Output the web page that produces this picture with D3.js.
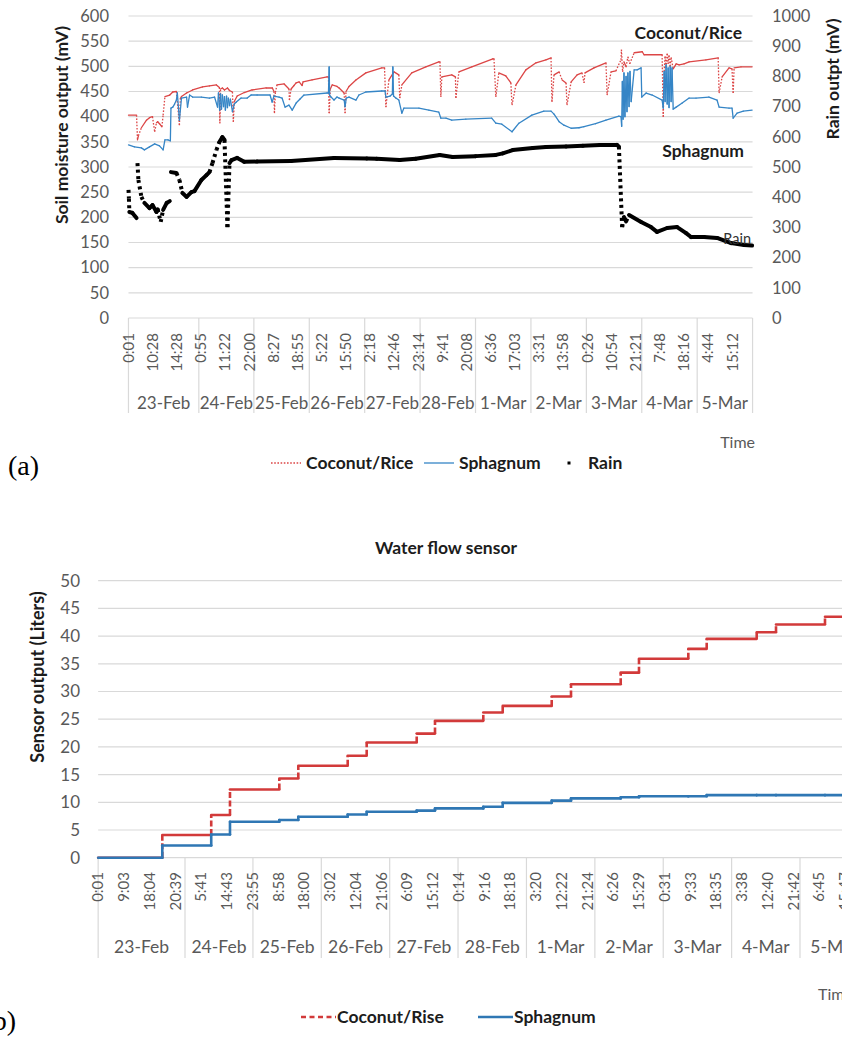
<!DOCTYPE html>
<html>
<head>
<meta charset="utf-8">
<script src="https://cdn.jsdelivr.net/npm/d3@7"></script>
<style>
  body { margin: 0; background: #fff; }
  svg { display: block; }
</style>
</head>
<body>
<svg id="fig" width="842" height="1039"></svg>
<script>
// ---------- data ----------
const days = ["23-Feb","24-Feb","25-Feb","26-Feb","27-Feb","28-Feb","1-Mar","2-Mar","3-Mar","4-Mar","5-Mar"];

// category-axis tick labels: [day index, clock time]
const soilTimeTicks = [[0,"0:01"],[0,"10:28"],[0,"14:28"],[1,"0:55"],[1,"11:22"],[1,"22:00"],[2,"8:27"],[2,"18:55"],
  [3,"5:22"],[3,"15:50"],[4,"2:18"],[4,"12:46"],[4,"23:14"],[5,"9:41"],[5,"20:08"],[6,"6:36"],[6,"17:03"],
  [7,"3:31"],[7,"13:58"],[8,"0:26"],[8,"10:54"],[8,"21:21"],[9,"7:48"],[9,"18:16"],[10,"4:44"],[10,"15:12"]];
const flowTimeTicks = [[0,"0:01"],[0,"9:03"],[0,"18:04"],[0,"20:39"],[1,"5:41"],[1,"14:43"],[1,"23:55"],[2,"8:58"],
  [2,"18:00"],[3,"3:02"],[3,"12:04"],[3,"21:06"],[4,"6:09"],[4,"15:12"],[5,"0:14"],[5,"9:16"],[5,"18:18"],
  [6,"3:20"],[6,"12:22"],[6,"21:24"],[7,"6:26"],[7,"15:29"],[8,"0:31"],[8,"9:33"],[8,"18:35"],[9,"3:38"],
  [9,"12:40"],[9,"21:42"],[10,"6:45"],[10,"15:47"]];

const soilTicks = [0,50,100,150,200,250,300,350,400,450,500,550,600];
const rainTicks = [0,100,200,300,400,500,600,700,800,900,1000];
const flowTicks = [0,5,10,15,20,25,30,35,40,45,50];

// soil moisture sensors: [hours since 23-Feb 0:00, mV]
const coconutSoil = [[0.02,403],[3.5,403],[3.9,354],[4.3,362],[5.6,378],[7.8,393],[9.1,398],[10.4,400],[10.8,370],
  [11.1,388],[11.3,390],[11.6,386],[12.0,380],[12.2,403],[12.5,440],[13.3,443],[13.8,449],[14.4,450],[15.6,383],
  [16.0,436],[16.5,440],[18.7,447],[21.3,453],[25.6,459],[28.6,461],[31.6,463],[32.9,458],[33.1,387],[33.4,455],
  [34.2,457],[35.1,453],[36.4,457],[37.3,452],[38.6,449],[39.0,390],[39.4,430],[40.7,441],[43.8,448],[47.2,453],
  [53.3,457],[56.0,457],[56.7,450],[56.9,407],[57.3,448],[58.0,463],[61.1,465],[63.2,455],[63.4,433],[64.1,455],
  [65.4,462],[66.3,467],[67.6,469],[68.9,462],[69.3,469],[73.2,473],[79.7,479],[80.3,479],[80.6,407],[81.1,455],
  [81.9,463],[84.0,460],[84.9,457],[87.1,447],[87.5,407],[87.9,450],[89.2,460],[92.2,473],[96.5,487],[103.4,497],
  [104.6,497],[105.2,419],[106.5,473],[108.7,489],[110.8,483],[111.2,437],[112.1,463],[116.4,487],[122.5,499],
  [128.1,509],[128.6,509],[129.0,439],[129.4,479],[133.7,483],[135.3,479],[135.5,437],[136.8,489],[142.4,499],
  [151.5,515],[152.0,515],[152.8,439],[154.1,487],[157.1,481],[159.3,467],[159.8,423],[161.5,463],[165.8,493],
  [170.2,507],[174.5,513],[176.7,517],[177.1,429],[178.0,483],[180.2,489],[181.5,473],[183.2,467],[183.6,423],
  [185.4,469],[188.0,483],[190.1,487],[191.0,467],[191.4,487],[195.3,497],[200.5,507],[201.0,443],[202.7,489],
  [204.8,491],[207.0,513],[207.2,533],[207.7,489],[208.3,509],[209.2,499],[210.0,519],[210.8,505],[212.7,527],
  [216.2,529],[217.0,523],[224.8,523],[225.3,400],[225.7,490],[226.1,520],[226.5,497],[227.0,525],[227.4,505],
  [227.8,522],[228.3,500],[228.7,518],[229.6,495],[230.9,505],[232.2,503],[234.3,505],[236.5,509],[243.8,513],
  [249.1,517],[249.5,447],[250.8,479],[253.8,497],[255.1,495],[255.6,447],[256.0,497],[259.0,499],[263.8,499]];

const sphagnumSoil = [[0.02,344],[2.6,340],[5.6,338],[6.9,334],[9.1,340],[10.8,346],[11.6,342],[12.2,334],[12.5,354],
  [13.0,354],[13.4,352],[13.5,417],[13.8,419],[14.1,425],[14.4,433],[14.7,447],[15.6,393],[16.5,437],[18.7,439],
  [19.1,419],[20.0,443],[21.3,439],[25.1,439],[28.6,437],[30.8,439],[32.1,419],[32.5,447],[33.0,413],[33.4,445],
  [33.8,415],[34.2,443],[34.7,420],[35.1,440],[35.5,413],[36.0,441],[36.4,418],[36.8,437],[37.3,422],[37.7,435],
  [38.6,410],[39.4,425],[40.3,429],[42.4,437],[45.1,437],[46.8,443],[49.4,443],[55.0,443],[55.9,429],[56.7,441],
  [58.9,439],[60.2,437],[61.5,419],[63.2,423],[64.6,413],[66.3,427],[68.0,435],[69.7,443],[79.7,447],[80.3,447],
  [80.6,499],[80.8,443],[81.4,439],[82.7,433],[84.0,439],[84.9,437],[87.1,433],[87.5,420],[88.0,437],[89.2,439],
  [92.2,433],[93.5,443],[96.5,449],[103.4,451],[104.8,451],[105.2,439],[107.0,441],[108.0,445],[108.2,499],
  [108.5,441],[109.5,437],[110.8,433],[112.1,407],[113.0,417],[119.5,417],[123.8,413],[128.1,409],[129.0,397],
  [131.2,397],[133.7,393],[139.8,395],[151.0,397],[152.8,387],[155.4,385],[159.8,370],[162.8,387],[168.4,403],
  [173.6,411],[176.7,411],[178.0,405],[180.2,390],[182.3,383],[185.4,377],[188.8,378],[191.0,380],[196.0,386],
  [200.5,393],[206.1,401],[207.0,400],[207.3,381],[207.6,470],[207.9,395],[208.3,487],[208.7,400],[209.2,480],
  [209.6,410],[210.0,487],[210.5,420],[210.9,490],[211.4,430],[212.7,493],[214.0,493],[215.7,497],[216.0,439],
  [217.9,447],[220.5,443],[224.8,433],[225.3,417],[225.7,490],[226.1,430],[226.5,503],[227.0,425],[227.4,497],
  [227.8,418],[228.3,500],[228.7,430],[229.1,497],[229.6,415],[230.9,419],[233.5,427],[236.5,437],[239.5,437],
  [245.1,439],[248.6,433],[249.5,419],[253.8,417],[255.1,417],[255.6,397],[257.3,407],[260.0,411],[263.8,413]];

// rain sensor: [hours, mV]; null marks a gap in the record
const rainOutput = [[0.02,424],[0.2,395],[0.4,351],[1.7,348],[3.5,331],[3.7,null],[3.9,513],[4.3,457],[5.6,401],
  [6.9,381],[9.1,364],[10.4,374],[11.1,351],[11.3,360],[11.8,318],[12.2,358],[12.8,381],[13.3,387],[13.4,null],
  [13.5,483],[14.4,480],[15.6,457],[16.9,414],[18.7,401],[20.8,417],[22.1,420],[25.1,457],[27.3,473],[28.6,483],
  [29.9,513],[31.6,556],[32.9,583],[34.2,599],[35.1,590],[36.4,301],[37.3,513],[38.2,523],[40.7,530],[43.8,517],
  [49.4,518],[64.1,520],[82.7,530],[96.9,528],[101.2,527],[111.2,523],[118.1,527],[128.5,540],[134.1,533],
  [144.1,536],[152.8,540],[155.8,545],[160.1,556],[168.8,563],[174.5,566],[183.2,568],[190.5,570],[197.9,573],
  [205.3,573],[206.1,568],[207.5,301],[208.3,334],[209.2,320],[210.5,341],[215.7,318],[220.0,301],[222.6,285],
  [227.0,298],[231.3,301],[235.2,281],[237.3,268],[243.0,268],[248.6,265],[254.7,248],[260.3,242],[263.8,240]];

// water flow sensors: hours at which the counters stepped, and the level reached (liters)
const flowStepHours = [19.33,33.2,39.8,57.27,63.93,81.26,87.92,105.49,111.92,128.86,135.67,152.86,159.63,177.07,
  183.5,200.8,207.25,224.81,231.58,248.78];
const coconutFlow = [4.1,7.7,12.3,14.3,16.6,18.4,20.8,22.4,24.7,26.2,27.4,29.1,31.3,33.4,35.9,37.7,39.5,40.7,42.1,43.5];
const sphagnumFlow = [2.2,4.2,6.5,6.8,7.4,7.8,8.3,8.5,8.9,9.2,9.9,10.3,10.7,10.9,11.1,11.1,11.3,11.3,11.3,11.3];

// ---------- helpers ----------
const FONT = "Lato, 'Open Sans', sans-serif";
const GRID = "#d9d9d9", TICK = "#595959", INK = "#1c1c1c";
const svg = d3.select("#fig");
const totalHours = days.length * 24;

const hoursOf = ([d, clock]) => {
  const [h, m] = clock.split(":").map(Number);
  return d * 24 + h + m / 60;
};
// category axis: every labelled sample sits one step further along
const categoryScale = (ticks, x0, step) =>
  d3.scaleLinear().domain(ticks.map(hoursOf)).range(ticks.map((_, i) => x0 + i * step));

// draw a series segment by segment; near-vertical jumps get the dash pattern
function drawSegments(g, pts, x, y, st) {
  for (let i = 0; i < pts.length - 1; i++) {
    const p = pts[i], q = pts[i + 1];
    if (p[1] == null || q[1] == null) continue;
    const x1 = x(p[0]), y1 = y(p[1]), x2 = x(q[0]), y2 = y(q[1]);
    const steep = Math.abs(y2 - y1) > 6 && Math.abs(y2 - y1) > 2 * Math.abs(x2 - x1);
    g.append("line")
      .attr("x1", x1).attr("y1", y1).attr("x2", x2).attr("y2", y2)
      .attr("stroke", st.color).attr("stroke-width", st.width)
      .attr("stroke-linecap", steep && st.dash ? "butt" : "round")
      .attr("stroke-dasharray", steep && st.dash ? st.dash : null);
  }
}
function stepPoints(start, end, times, levels) {
  const pts = [[start, 0]];
  let prev = 0;
  times.forEach((t, i) => { pts.push([t, prev], [t, levels[i]]); prev = levels[i]; });
  pts.push([end, prev]);
  return pts;
}
function styleAxisText(g, size, anchor) {
  g.select(".domain").remove();
  g.selectAll("text").attr("fill", TICK).style("font-family", FONT).style("font-size", size + "px")
    .attr("text-anchor", anchor);
}
function label(g, x, y, txt, size, opts = {}) {
  return g.append("text").attr("x", x).attr("y", y).text(txt)
    .style("font-family", opts.family || FONT).style("font-size", size + "px")
    .style("font-weight", opts.bold ? "bold" : "normal")
    .attr("fill", opts.fill || INK).attr("text-anchor", opts.anchor || "start");
}
function rotatedTitle(g, cx, cy, txt, size) {
  g.append("text").attr("transform", `translate(${cx},${cy}) rotate(-90)`)
    .attr("text-anchor", "middle").attr("dy", "0.35em").text(txt)
    .style("font-family", FONT).style("font-size", size + "px").style("font-weight", "bold").attr("fill", INK);
}

// ---------- panel (a): soil moisture and rain ----------
const pa = svg.append("g");
const xA = categoryScale(soilTimeTicks, 128.5, 24.15);
const ySoil = d3.scaleLinear().domain([0, 600]).range([318, 16]);
const yRain = d3.scaleLinear().domain([0, 1000]).range([318, 16]);
const aL = xA(0), aR = xA(totalHours);

pa.append("g").selectAll("line").data(soilTicks).join("line")
  .attr("x1", aL).attr("x2", aR).attr("y1", d => ySoil(d)).attr("y2", d => ySoil(d))
  .attr("stroke", GRID).attr("stroke-width", 1.2);

pa.append("g").attr("transform", "translate(109,0)")
  .call(d3.axisLeft(ySoil).tickValues(soilTicks).tickSize(0).tickPadding(0))
  .call(g => styleAxisText(g, 16.5, "end"));
pa.append("g").attr("transform", "translate(772,0)")
  .call(d3.axisRight(yRain).tickValues(rainTicks).tickFormat(d3.format("d")).tickSize(0).tickPadding(0))
  .call(g => styleAxisText(g, 16.5, "start"));

rotatedTitle(pa, 62, 125, "Soil moisture output (mV)", 17.5);
rotatedTitle(pa, 833, 79, "Rain outpt (mV)", 17.5);

// two-level time axis
pa.append("g").selectAll("line").data(d3.range(days.length + 1)).join("line")
  .attr("x1", d => xA(d * 24)).attr("x2", d => xA(d * 24)).attr("y1", 318).attr("y2", 413)
  .attr("stroke", GRID).attr("stroke-width", 1.2);
pa.append("g").selectAll("text").data(soilTimeTicks).join("text")
  .attr("transform", d => `translate(${xA(hoursOf(d))},333) rotate(-90)`)
  .attr("text-anchor", "end").attr("dy", "0.35em").text(d => d[1])
  .style("font-family", FONT).style("font-size", "15px").attr("fill", TICK);
pa.append("g").selectAll("text").data(days).join("text")
  .attr("x", (d, i) => (xA(i * 24) + xA((i + 1) * 24)) / 2).attr("y", 409)
  .attr("text-anchor", "middle").text(d => d)
  .style("font-family", FONT).style("font-size", "17px").attr("fill", TICK);
label(pa, 755, 448, "Time", 16, { anchor: "end", fill: TICK });

// series
const gRed = pa.append("g"), gBlue = pa.append("g"), gRain = pa.append("g");
drawSegments(gRed, coconutSoil, xA, ySoil, { color: "#dc4646", width: 1.3, dash: "1.6,1.6" });
drawSegments(gBlue, sphagnumSoil, xA, ySoil, { color: "#3585c6", width: 1.3 });
drawSegments(gRain, rainOutput, xA, yRain, { color: "#000", width: 4, dash: "3,3.5" });

label(pa, 742, 39, "Coconut/Rice", 17.5, { anchor: "end", bold: true });
label(pa, 744, 157, "Sphagnum", 17.5, { anchor: "end", bold: true });
label(pa, 751, 244, "Rain", 14.5, { anchor: "end", fill: "#333" });

// legend (a)
const la = pa.append("g");
la.append("line").attr("x1", 271).attr("x2", 301).attr("y1", 463).attr("y2", 463)
  .attr("stroke", "#dc4646").attr("stroke-width", 1.3).attr("stroke-dasharray", "1.6,1.6");
label(la, 306, 469, "Coconut/Rice", 17.5, { bold: true });
la.append("line").attr("x1", 424).attr("x2", 454).attr("y1", 463).attr("y2", 463)
  .attr("stroke", "#3585c6").attr("stroke-width", 1.3);
label(la, 459, 469, "Sphagnum", 17.5, { bold: true });
la.append("rect").attr("x", 567.5).attr("y", 461.5).attr("width", 3).attr("height", 3).attr("fill", "#000");
label(la, 588, 469, "Rain", 17.5, { bold: true });
label(svg, 8, 475, "(a)", 28, { family: "'Liberation Serif', serif", fill: "#000" });

// ---------- panel (b): water flow ----------
const pb = svg.append("g");
const xB = categoryScale(flowTimeTicks, 98.2, 25.75);
const yFlow = d3.scaleLinear().domain([0, 50]).range([857.7, 580.7]);
const bL = xB(0), bR = xB(totalHours);

label(pb, 446, 554, "Water flow sensor", 17.5, { anchor: "middle", bold: true });

pb.append("g").selectAll("line").data(flowTicks).join("line")
  .attr("x1", bL).attr("x2", bR).attr("y1", d => yFlow(d)).attr("y2", d => yFlow(d))
  .attr("stroke", GRID).attr("stroke-width", 1.2);
pb.append("g").attr("transform", "translate(80,0)")
  .call(d3.axisLeft(yFlow).tickValues(flowTicks).tickSize(0).tickPadding(0))
  .call(g => styleAxisText(g, 17, "end"));
rotatedTitle(pb, 38, 677, "Sensor output (Liters)", 18);

pb.append("g").selectAll("line").data(d3.range(days.length + 1)).join("line")
  .attr("x1", d => xB(d * 24)).attr("x2", d => xB(d * 24)).attr("y1", 858).attr("y2", 958)
  .attr("stroke", GRID).attr("stroke-width", 1.2);
pb.append("g").selectAll("text").data(flowTimeTicks).join("text")
  .attr("transform", d => `translate(${xB(hoursOf(d))},872) rotate(-90)`)
  .attr("text-anchor", "end").attr("dy", "0.35em").text(d => d[1])
  .style("font-family", FONT).style("font-size", "15px").attr("fill", TICK);
pb.append("g").selectAll("text").data(days).join("text")
  .attr("x", (d, i) => (xB(i * 24) + xB((i + 1) * 24)) / 2).attr("y", 953)
  .attr("text-anchor", "middle").text(d => d)
  .style("font-family", FONT).style("font-size", "17.5px").attr("fill", TICK);
label(pb, 818, 1000, "Time", 16, { fill: TICK });

const start = hoursOf(flowTimeTicks[0]);
drawSegments(pb.append("g"), stepPoints(start, totalHours, flowStepHours, coconutFlow), xB, yFlow,
  { color: "#d23a3a", width: 2.6, dash: "6,2.5" });
drawSegments(pb.append("g"), stepPoints(start, totalHours, flowStepHours, sphagnumFlow), xB, yFlow,
  { color: "#2f77b4", width: 2.6 });

// legend (b)
const lb = pb.append("g");
lb.append("line").attr("x1", 301).attr("x2", 336).attr("y1", 1017).attr("y2", 1017)
  .attr("stroke", "#d23a3a").attr("stroke-width", 2.6).attr("stroke-dasharray", "5,3.5");
label(lb, 337, 1023, "Coconut/Rise", 17.5, { bold: true });
lb.append("line").attr("x1", 478).attr("x2", 513).attr("y1", 1017).attr("y2", 1017)
  .attr("stroke", "#2f77b4").attr("stroke-width", 2.6);
label(lb, 514, 1023, "Sphagnum", 17.5, { bold: true });
label(svg, 16, 1030, "(b)", 28, { family: "'Liberation Serif', serif", fill: "#000", anchor: "end" });
</script>
</body>
</html>
